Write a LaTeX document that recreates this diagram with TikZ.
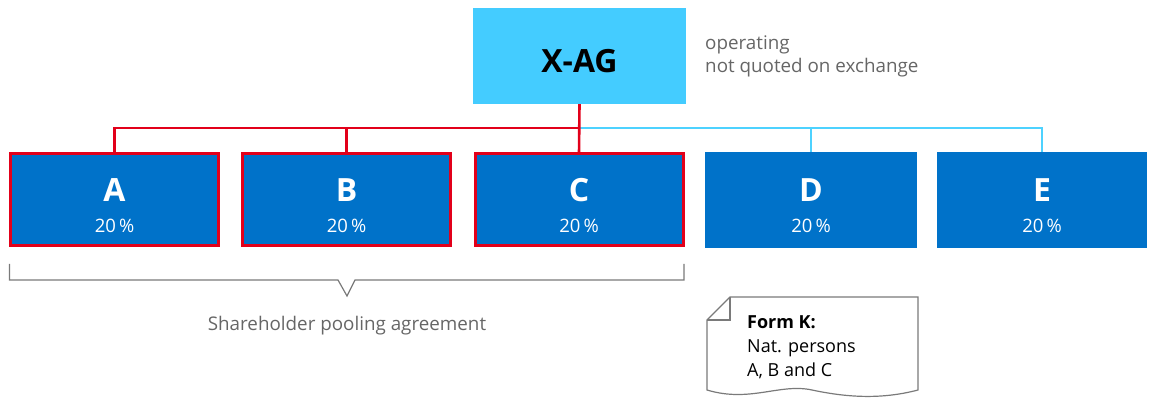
\documentclass[tikz,border=0pt]{standalone}
\usepackage{fontspec}
\setmainfont{Open Sans}
\usetikzlibrary{calc}
\definecolor{boxblue}{HTML}{0072C9}
\definecolor{topcyan}{HTML}{44CCFF}
\definecolor{linecyan}{HTML}{4DD2FF}
\definecolor{redline}{HTML}{E2001A}
\definecolor{greytext}{HTML}{666666}
\definecolor{greyline}{HTML}{7A7A7A}
\begin{document}
\begin{tikzpicture}[x=1pt,y=-1pt,
  sharebox/.style={fill=boxblue,minimum width=211pt,minimum height=95pt,inner sep=0pt,outer sep=0pt},
  pooled/.style={sharebox,draw=redline,line width=3pt,minimum width=208pt,minimum height=92pt},
  letter/.style={text=white,font=\fontsize{32}{36}\selectfont\bfseries,anchor=base,inner sep=0pt},
  pct/.style={text=white,font=\fontsize{18.5}{22}\selectfont,anchor=base,inner sep=0pt},
  note/.style={text=greytext,font=\fontsize{18.8}{23}\selectfont,anchor=base west,inner sep=0pt},
  doctext/.style={text=black,font=\fontsize{18}{22}\selectfont,anchor=base west,inner sep=0pt},
  redconn/.style={draw=redline,line width=2.6pt},
  cyanconn/.style={draw=linecyan,line width=2.6pt},
  greystroke/.style={draw=greyline,line width=1.2pt}]
\useasboundingbox (0,0) rectangle (1149,398);

% top box
\node[fill=topcyan,minimum width=213pt,minimum height=96pt,inner sep=0pt] (xag) at (579.5,56) {};
\node[text=black,font=\fontsize{32}{36}\selectfont\bfseries,anchor=base,inner sep=0pt] (xagt) at (579.5,73) {X-AG};
\node[note] (n1) at (705,50) {operating};
\node[note] (n2) at (705,73) {not quoted on exchange};

% shareholder boxes
\node[pooled] (A) at (114.5,200) {};
\node[pooled] (B) at (346.5,200) {};
\node[pooled] (C) at (579,200) {};
\node[sharebox,minimum width=212pt,minimum height=96pt] (D) at (811,200) {};
\node[sharebox,minimum width=210pt,minimum height=96pt] (E) at (1042,200) {};

\foreach \n/\t in {A/A,B/B,C/C,D/D,E/E}{
  \node[letter] (\n l) at ($(\n)+(0,2)$) {\t};
}
\foreach \n in {A,B,C,D,E}{
  \node[pct] (\n p) at ($(\n)+(0,33)$) {20\,\%};
}

% connectors
\coordinate (bus) at (579,128);
\draw[cyanconn] (bus) -| (E.north);
\draw[cyanconn] (D.north) -- (D.north |- bus);
\draw[redconn] (xag.south) -- (C.north);
\draw[redconn] (A.north) |- (bus);
\draw[redconn] (B.north) -- (B.north |- bus);

% bracket
\draw[greystroke] (9.5,264) -- (9.5,280) -- (338,280) -- (347,296) -- (355,280) -- (684,280) -- (684,264);
\node[text=greytext,font=\fontsize{18.8}{22}\selectfont,anchor=base,inner sep=0pt] (pool) at (347,330) {Shareholder pooling agreement};

% document
\draw[greystroke] (730,297) -- (918,297) -- (918,390)
  .. controls (880,400) and (845,397) .. (812,390)
  .. controls (780,383) and (750,403) .. (707,390)
  -- (707,320) -- cycle;
\draw[greystroke] (707,320) -- (730,320) -- (730,297);
\node[doctext,font=\fontsize{18}{22}\selectfont\bfseries] (f1) at (747,328) {Form K:};
\node[doctext] (f2) at (747,352.5) {Nat. persons};
\node[doctext] (f3) at (747,376.5) {A, B and C};
\end{tikzpicture}
\end{document}
